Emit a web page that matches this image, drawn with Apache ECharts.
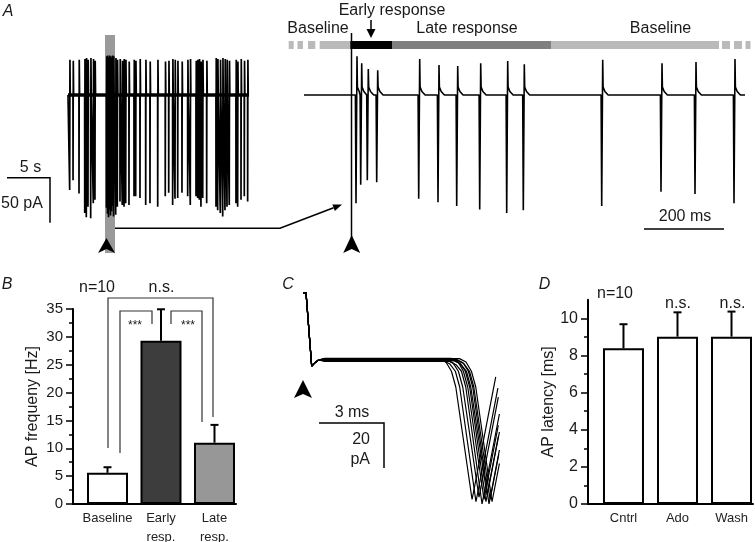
<!DOCTYPE html>
<html><head><meta charset="utf-8">
<script src="https://cdn.jsdelivr.net/npm/echarts@6/dist/echarts.min.js"></script>
<style>html,body{margin:0;padding:0;background:#fff}#c{width:755px;height:542px}</style>
</head><body><div id="c"></div>
<script>
// ---------- Panel A, left trace (time in s, current in pA) ----------
const aLeftDuration = 21.55;
const aLeftSpikeTimes = [0.20,0.60,1.31,1.99,2.18,2.38,2.70,3.01,3.21,
  4.58,4.70,4.82,4.94,5.06,5.18,5.30,5.42,
  5.68,5.87,6.19,6.46,6.67,6.87,7.26,7.86,8.06,8.57,9.25,9.76,
  10.68,11.58,11.99,12.46,12.74,13.06,13.57,14.25,14.56,15.24,15.44,15.63,15.83,16.04,16.51,
  17.62,17.82,18.13,18.42,18.69,18.93,19.20,20.00,20.20,20.60,20.99,21.39];
const aLeftTroughs = [-108,-97,-112,-134,-139,-127,-140,-123,-119,
  -128,-135,-139,-130,-137,-132,-126,-138,
  -136,-127,-121,-125,-127,-123,-125,-115,-115,-117,-125,-123,
  -127,-115,-111,-125,-118,-117,-111,-115,-125,-115,-117,-119,-127,-117,-123,
  -127,-131,-134,-138,-131,-127,-125,-123,-127,-119,-115,-121];
const aLeftPeaks = [40,39,40,41,42,40,42,41,39,
  44,45,43,45,44,43,45,44,
  42,40,41,39,41,40,38,40,39,41,40,38,
  40,38,39,41,40,39,38,40,41,39,40,41,38,40,39,
  42,41,40,42,41,40,39,40,38,41,39,40];

// ---------- Panel A, right trace (time in ms, current in pA) ----------
const aRightDuration = 1102.5;
const aRightSpikeTimes = [130,141.75,158.25,181.75,286.75,335,381.75,439.25,506.75,548.25,744.25,892.5,977.5,1075];
const aRightTroughs = [-123,-102,-97,-99,-118,-122,-126,-130,-134,-131,-126,-110,-112.5,-123];
const aRightPeaks = [44,36,29.5,28,41,34,33,36,38.6,35,40,36,37.5,41];

// ---------- Panel B ----------
const bCategories = ['Baseline','Early\nresp.','Late\nresp.'];
const bMeans = [5.6, 29.3, 11.0];
const bErrTops = [6.6, 34.95, 14.2];
const bColors = ['#ffffff','#3d3d3d','#979797'];

// ---------- Panel C (time in ms, current in pA) ----------
const cArtifactT = [0, 0.14, 0.40, 0.55, 0.72];
const cArtifactV = [29.8, 29.8, -2.7, -1.2, 0];
const cTroughTimes = [7.79,7.97,8.11,8.25,8.34,8.43,8.48,8.57,8.62,8.71];
const cTroughAmps = [-62,-63,-61,-64,-62,-63,-60,-64,-62,-63];
const cEndTimes = [8.88,8.98,9.0,9.05,9.0,9.05,9.0,9.05,9.02,9.05];
const cEndAmps = [-7.5,-12.5,-16.5,-24,-29,-32,-34,-40,-42,-46];
const cBaselineOffsets = [0.5,-0.3,0.2,-0.6,0.7,0.0,-0.4,0.3,-0.2,0.6];

// ---------- Panel D ----------
const dCategories = ['Cntrl','Ado','Wash'];
const dMeans = [8.38, 9.01, 9.01];
const dErrTops = [9.68, 10.32, 10.36];

// ================= build =================
const F = "'Liberation Sans', Arial, Helvetica, sans-serif";
const TXT = '#1a1a1a';

function leftTrace(){
  const p=[[0,0]];
  aLeftSpikeTimes.forEach((t,i)=>{p.push([t-0.01,0],[t,aLeftTroughs[i]],[t+0.03,aLeftPeaks[i]],[t+0.07,0]);});
  p.push([aLeftDuration,0]); return p;
}
function rightTrace(){
  const p=[[0,0]];
  aRightSpikeTimes.forEach((t,i)=>{
    const next = i<aRightSpikeTimes.length-1 ? aRightSpikeTimes[i+1]-2 : aRightDuration;
    p.push([t-1.5,0],[t,aRightTroughs[i]],[t+2.5,aRightPeaks[i]]);
    [[3.5,9],[8,4],[16,0]].forEach(d=>{ if(t+d[0]<next) p.push([t+d[0],d[1]]); });
  });
  p.push([aRightDuration,0]); return p;
}
function cTrace(i){
  const p = cArtifactT.map((t,k)=>[t,cArtifactV[k]]);
  const off=cBaselineOffsets[i], tr=cTroughTimes[i], on=tr-1.5;
  p.push([1.0,off],[on,off],[on+0.3,off-1.5],[on+0.55,-5],[on+0.75,-12],[tr,cTroughAmps[i]],[cEndTimes[i],cEndAmps[i]]);
  return p;
}
function errRender(params, api){
  const x=api.value(0);
  const p0=api.coord([x,api.value(1)]), p1=api.coord([x,api.value(2)]);
  return {type:'group',children:[
    {type:'line',shape:{x1:p0[0],y1:p0[1],x2:p1[0],y2:p1[1]},style:{stroke:'#000',lineWidth:2}},
    {type:'line',shape:{x1:p1[0]-4,y1:p1[1],x2:p1[0]+4,y2:p1[1]},style:{stroke:'#000',lineWidth:2}}]};
}
const hiddenAxis = (g,min,max)=>({gridIndex:g,type:'value',min,max,show:false});
function catXAxis(g,min,max,cats){
  return {gridIndex:g,type:'value',min,max,splitLine:{show:false},
    axisLine:{show:true,onZero:true,lineStyle:{color:'#000',width:2}},axisTick:{show:false},
    axisLabel:{customValues:[0,1,2],formatter:v=>cats[Math.round(v)],fontSize:13,color:'#222',lineHeight:19,margin:5,fontFamily:F}};
}
function valYAxis(g,opt){
  return Object.assign({gridIndex:g,type:'value',position:'left',splitLine:{show:false},
    axisLine:{show:true,onZero:false,lineStyle:{color:'#000',width:2}},
    axisTick:{show:true,length:7,lineStyle:{color:'#000',width:1.5}},
    axisLabel:{fontSize:15,color:TXT,margin:10,fontFamily:F},
    nameLocation:'middle',nameRotate:90,nameTextStyle:{fontSize:16,color:TXT,fontFamily:F}},opt);
}

// graphic helpers (annotations)
function txt(text,x,y,size,italic,align){return {type:'text',z:100,style:{text,x,y,font:(italic?'italic ':'')+size+'px '+F,fill:TXT,textAlign:align||'center',textVerticalAlign:'middle'}};}
function ln(points,w,color){return {type:'polyline',z:100,shape:{points},style:{stroke:color||'#000',lineWidth:w,fill:null}};}
function rect(x,y,w,h,fill,z){return {type:'rect',z:(z===undefined?100:z),shape:{x,y,width:w,height:h},style:{fill}};}
function poly(points){return {type:'polygon',z:100,shape:{points},style:{fill:'#000'}};}
function arrowUp(cx,top,bottom,hw){return poly([[cx,top],[cx+hw,bottom],[cx,bottom-4],[cx-hw,bottom]]);}

const graphics = [];
// Panel A annotations
graphics.push(txt('A',8,12,16,true));
graphics.push(rect(105,35,10,218,'#9a9a9a',0));
graphics.push(arrowUp(106.5,238,253,8.5));
graphics.push(ln([[7,177.7],[50,177.7],[50,222.7]],1.5));
graphics.push(txt('5 s',30.5,168,16));
graphics.push(txt('50 pA',22,203.5,16));
// connector arrow
(function(){
  const a=[280,228.3], tip=[342,204.5];
  const dx=tip[0]-a[0], dy=tip[1]-a[1], L=Math.hypot(dx,dy), ux=dx/L, uy=dy/L;
  const bx=tip[0]-9*ux, by=tip[1]-9*uy, nx=-uy, ny=ux;
  graphics.push(ln([[115,228.3],a,[bx,by]],1.5));
  graphics.push(poly([tip,[bx+3.5*nx,by+3.5*ny],[bx-3.5*nx,by-3.5*ny]]));
})();
// timeline bar
const segs=[[288.7,293.7,'#bababa'],[297.5,303,'#bababa'],[308,315.3,'#bababa'],[319.7,350.3,'#bababa'],
  [350.3,392,'#000'],[392,551,'#7f7f7f'],[551,719,'#bababa'],[722,730,'#bababa'],[734,742,'#bababa'],[745.5,750.5,'#bababa']];
segs.forEach(s=>graphics.push(rect(s[0],41,s[1]-s[0],8,s[2])));
graphics.push(ln([[351.5,33],[351.5,242]],1.5));
graphics.push(arrowUp(351.7,235,253,8.5));
graphics.push(txt('Baseline',318,29,16));
graphics.push(txt('Early response',392,11,16));
graphics.push(txt('Late response',467,29,16));
graphics.push(txt('Baseline',660.5,29,16));
graphics.push(ln([[371,20],[371,31]],1.5));
graphics.push(poly([[366.5,29],[375.5,29],[371,38]]));
graphics.push(txt('200 ms',685,217,16));
graphics.push(ln([[644,229],[724,229]],1.5));
// Panel B annotations
graphics.push(txt('B',7,285,16,true));
graphics.push(txt('n=10',97,288,16));
graphics.push(txt('n.s.',161.5,288,16));
graphics.push(ln([[108,448],[108,298],[213,298],[213,417]],1.2,'#333'));
graphics.push(ln([[120,453],[120,311],[152,311],[152,324]],1.2,'#333'));
graphics.push(ln([[171,324],[171,311],[202,311],[202,422]],1.2,'#333'));
graphics.push(txt('***',135,326,12));
graphics.push(txt('***',188,326,12));
// Panel C annotations
graphics.push(txt('C',288,285,16,true));
graphics.push(arrowUp(303,380,398,9));
graphics.push(txt('3 ms',352,413,16));
graphics.push(ln([[319,423],[384,423],[384,468]],1.5));
graphics.push(txt('20',370,440,16,false,'right'));
graphics.push(txt('pA',370,460,16,false,'right'));
// Panel D annotations
graphics.push(txt('D',544.5,285,16,true));
graphics.push(txt('n=10',615,293.5,16));
graphics.push(txt('n.s.',678,303.5,16));
graphics.push(txt('n.s.',732.5,303.5,16));

const series = [
  {type:'line',xAxisIndex:0,yAxisIndex:0,data:[[0,0],[aLeftDuration,0]],symbol:'none',silent:true,lineStyle:{color:'#000',width:3.5}},
  {type:'line',xAxisIndex:0,yAxisIndex:0,data:leftTrace(),symbol:'none',silent:true,lineStyle:{color:'#000',width:1.7}},
  {type:'line',xAxisIndex:1,yAxisIndex:1,data:rightTrace(),symbol:'none',silent:true,lineStyle:{color:'#000',width:1.6}},
  {type:'bar',xAxisIndex:2,yAxisIndex:2,barWidth:41,
    data:bMeans.map((v,i)=>({value:[i,v],itemStyle:{color:bColors[i],borderColor:'#000',borderWidth:2}}))},
  {type:'custom',xAxisIndex:2,yAxisIndex:2,z:5,renderItem:errRender,data:bMeans.map((v,i)=>[i,v,bErrTops[i]])},
  {type:'bar',xAxisIndex:4,yAxisIndex:4,barWidth:41,
    data:dMeans.map((v,i)=>({value:[i,v],itemStyle:{color:'#fff',borderColor:'#000',borderWidth:2}}))},
  {type:'custom',xAxisIndex:4,yAxisIndex:4,z:5,renderItem:errRender,data:dMeans.map((v,i)=>[i,v,dErrTops[i]])}
];
cTroughTimes.forEach((t,i)=>series.push({type:'line',xAxisIndex:3,yAxisIndex:3,data:cTrace(i),symbol:'none',silent:true,lineStyle:{color:'#000',width:1.2}}));

const chart = echarts.init(document.getElementById('c'),null,{renderer:'canvas'});
chart.setOption({
  animation:false,backgroundColor:'#fff',textStyle:{fontFamily:F},
  grid:[
    {left:68,top:51,width:181,height:176,outerBoundsMode:'none'},
    {left:304,top:51,width:441,height:176,outerBoundsMode:'none'},
    {left:73,top:309,width:163,height:195,outerBoundsMode:'none'},
    {left:303,top:288,width:197.5,height:218.25,outerBoundsMode:'none'},
    {left:588,top:299.7,width:165,height:204.3,outerBoundsMode:'none'}
  ],
  xAxis:[
    hiddenAxis(0,0,aLeftDuration),
    hiddenAxis(1,0,aRightDuration),
    catXAxis(2,-0.645,2.402,bCategories),
    hiddenAxis(3,0,9.1),
    catXAxis(4,-0.657,2.398,dCategories)
  ],
  yAxis:[
    hiddenAxis(0,-150,50),
    hiddenAxis(1,-150,50),
    valYAxis(2,{min:0,max:35,interval:5,name:'AP frequeny [Hz]',nameGap:32,
      minorTick:{show:true,splitNumber:2,length:4,lineStyle:{color:'#000',width:1.5}},minorSplitLine:{show:false}}),
    hiddenAxis(3,-65,32),
    valYAxis(4,{min:0,max:11,name:'AP latency [ms]',nameGap:30,
      axisTick:{show:true,length:7,customValues:[0,2,4,6,8,10],lineStyle:{color:'#000',width:1.5}},
      axisLabel:{customValues:[0,2,4,6,8,10],fontSize:16,color:TXT,margin:10,fontFamily:F}}),
    {gridIndex:4,type:'value',position:'left',min:0,max:11,splitLine:{show:false},
      axisLine:{show:false,onZero:false},axisLabel:{show:false},
      axisTick:{show:true,length:4,customValues:[1,3,5,7,9],lineStyle:{color:'#000',width:1.5}}}
  ],
  graphic:{elements:graphics},
  series
});
</script></body></html>
